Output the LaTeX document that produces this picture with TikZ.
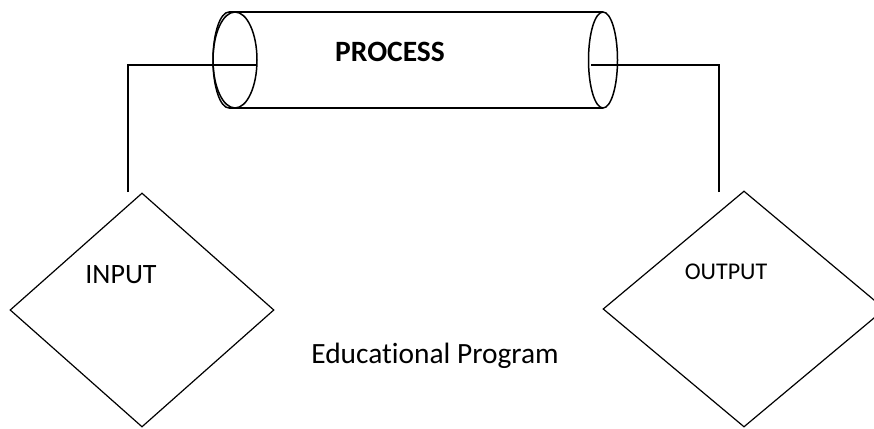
\documentclass[tikz,border=0pt]{standalone}
\usepackage{fontspec}
\setmainfont[Ligatures=NoCommon]{Carlito}
\usetikzlibrary{shapes.geometric}

\begin{document}
\begin{tikzpicture}[x=1pt,y=-1pt,
	box/.style={diamond,draw,line width=1.2pt,inner sep=0pt,minimum width=264pt,minimum height=234pt},
	wire/.style={line width=1.5pt}]
	\useasboundingbox (0,0) rectangle (874,428);
	% the process tube
	\draw[wire] (229,12) -- (603,12) (229,108) -- (603,108);
	\draw[wire] (229,12) arc[start angle=270,end angle=90,x radius=16,y radius=48];
	\draw[wire] (235,60) ellipse [x radius=22,y radius=48];
	\draw[wire] (603,60) ellipse [x radius=14.5,y radius=48];
	\node (proc) at (390,52) {\fontsize{29.5}{34}\selectfont\bfseries PROCESS};
	% input and output
	\node[box] (in) at (142,310) {};
	\node[box,minimum width=282pt,minimum height=236pt] (out) at (744,309) {};
	\node (inlabel) at (121,275) {\fontsize{28}{33}\selectfont INPUT};
	\node (outlabel) at (726,272) {\fontsize{24}{29}\selectfont OUTPUT};
	\node[anchor=base] (prog) at (435,363) {\fontsize{29.4}{34}\selectfont Educational Program};
	% connectors
	\coordinate (in-end) at (128,192);
	\coordinate (out-end) at (719,192);
	\coordinate (proc-in) at (256,65);
	\coordinate (proc-out) at (591,65);
	\draw[wire] (in-end) |- (proc-in);
	\draw[wire] (out-end) |- (proc-out);
\end{tikzpicture}
\end{document}
